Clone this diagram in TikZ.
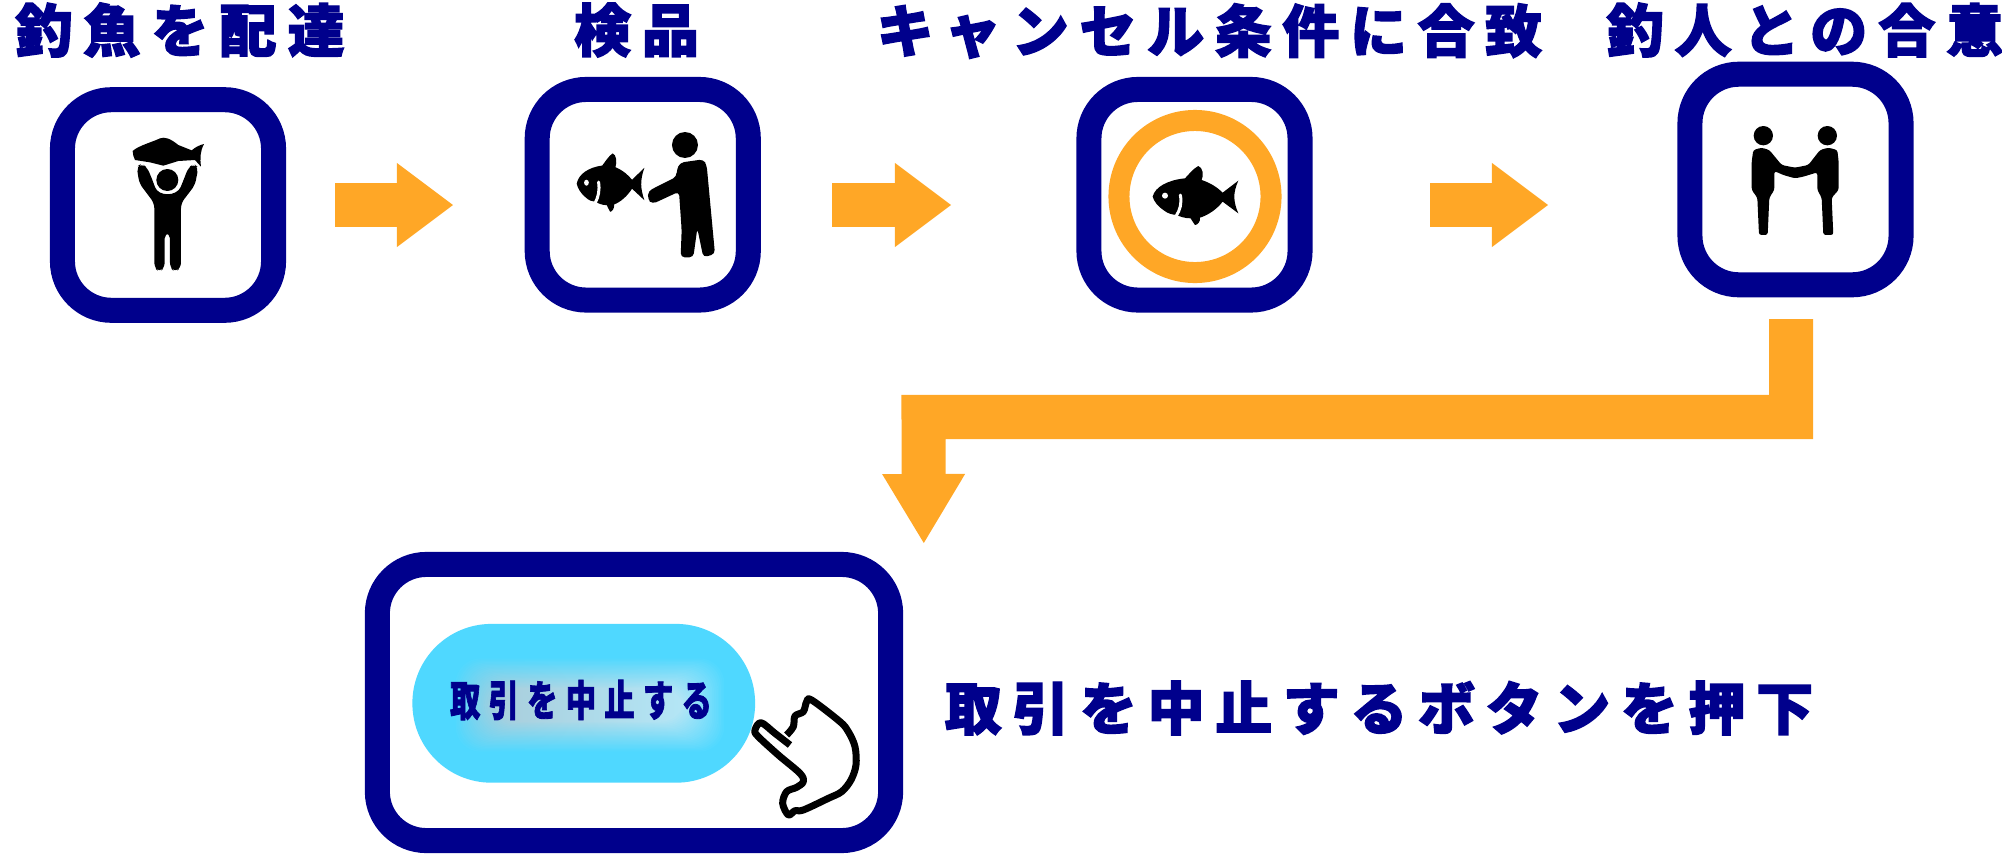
\documentclass[tikz,border=0pt]{standalone}
\usepackage{fontspec}
\usetikzlibrary{arrows.meta,calc}
\newfontfamily\jphead[LetterSpace=19.5,FakeBold=2.5]{Noto Sans CJK JP Black}
\newfontfamily\jplong[LetterSpace=18.7,FakeBold=2.5]{Noto Sans CJK JP Black}
\newfontfamily\jpbtn[LetterSpace=27,FakeBold=2]{Noto Sans CJK JP Black}
\definecolor{navy}{HTML}{00008C}
\definecolor{amber}{HTML}{FFA726}
\definecolor{sky}{HTML}{4FD8FF}
\definecolor{glowL}{HTML}{A8CEDC}
\definecolor{glowR}{HTML}{B4E6F6}
\tikzset{
  framebox/.style={draw=navy,line width=.25cm,fill=white,rounded corners=.49cm,outer sep=0pt,inner sep=0pt},
  stepframe/.style={framebox,minimum width=2.11cm,minimum height=2.105cm},
  flow/.style={draw=amber,line width=.44cm,-{Triangle[length=.56cm,width=.84cm,line width=0pt,fill=amber]}},
  longflow/.style={draw=amber,line width=.44cm,-{Triangle[length=.69cm,width=.83cm,line width=0pt,fill=amber]}},
  head/.style={text=navy,inner sep=0pt,font=\jphead\fontsize{16.2pt}{18pt}\selectfont},
  headlong/.style={text=navy,inner sep=0pt,font=\jplong\fontsize{16.2pt}{18pt}\selectfont},
  btntext/.style={text=navy,inner sep=0pt,xscale=.72,transform shape,font=\jpbtn\fontsize{12pt}{14pt}\selectfont},
}
\newcommand{\fishshape}{%
  \fill[black] (38,140) .. controls (45,110) and (85,90) .. (135,85)
    .. controls (145,75) and (160,55) .. (175,48)
    .. controls (188,52) and (192,75) .. (185,90)
    .. controls (215,100) and (235,115) .. (248,128) -- (295,92)
    .. controls (278,130) and (280,155) .. (295,190) -- (248,155)
    .. controls (230,178) and (205,195) .. (180,203)
    .. controls (182,215) and (172,225) .. (165,225)
    .. controls (158,220) and (158,210) .. (152,205)
    .. controls (135,205) and (120,200) .. (110,195)
    .. controls (95,193) and (85,192) .. (70,180)
    .. controls (55,170) and (42,155) .. (38,140) -- cycle;
  \fill[white] (75,137) circle (9);
  \draw[white,line width=.03cm,line cap=round] (121,135) .. controls (126,160) and (120,180) .. (109,197);
}
\begin{document}
\begin{tikzpicture}[x=.01cm,y=-.01cm]
\useasboundingbox (0,0) rectangle (2002,854);
% frames
\node[stepframe] (b1) at (168,205) {};
\node[stepframe] (b2) at (642.75,194.75) {};
\node[stepframe] (b3) at (1194.5,194.75) {};
\node[stepframe] (b4) at (1795.5,179.5) {};
\node[framebox,minimum width=5.13cm,minimum height=2.76cm] (b5) at (634,702.5) {};
% headings
\node[head] (h1) at (180,30) {釣魚を配達};
\node[head] (h2) at (636.5,30) {検品};
\node[headlong] (h3) at (1209.5,31) {キャンセル条件に合致};
\node[head] (h4) at (1805,30) {釣人との合意};
\node[headlong] (h5) at (1379,708) {取引を中止するボタンを押下};
% arrows
\coordinate (a1s) at (335,205); \coordinate (a1e) at (453,205);
\coordinate (a2s) at (832,205); \coordinate (a2e) at (951,205);
\coordinate (a3s) at (1430,205); \coordinate (a3e) at (1548,205);
\coordinate (a4s) at (1791,319); \coordinate (a4a) at (1791,417);
\coordinate (a4b) at (923.5,417); \coordinate (a4e) at (923.8,543);
\draw[flow] (a1s) -- (a1e);
\draw[flow] (a2s) -- (a2e);
\draw[flow] (a3s) -- (a3e);
\draw[longflow] (a4s) -- (a4a) -- (a4b) -- (a4e);
% icon 1
\begin{scope}[shift={(120,125)},scale=.3333]
  \fill[black] (38,78) .. controls (55,62) and (100,50) .. (120,40) .. controls (135,35) and (150,40) .. (175,60) -- (215,76) .. controls (228,65) and (240,60) .. (252,57) .. controls (240,80) and (240,100) .. (243,125) -- (225,105) -- (175,108) -- (130,122) -- (90,112) -- (45,105) -- (40,92) -- cycle;
  \fill[black,rounded corners=.05cm] (50,125) -- (65,116) -- (82,128) -- (100,172) .. controls (115,215) and (170,215) .. (188,172) -- (205,128) -- (222,116) -- (235,128) -- (225,180) -- (183,235) -- (183,428) -- (165,441) -- (150,428) -- (150,325) -- (134,325) -- (134,428) -- (118,441) -- (103,428) -- (103,235) -- (58,175) -- cycle;
  \fill[white] (142,165) circle (39);
  \fill[black] (142,165) circle (33);
\end{scope}
% icon 2
\begin{scope}[shift={(565,120)},scale=.3333]
  \fill[black] (360,75) circle (39);
  \fill[black,rounded corners=.04cm] (335,150) -- (345,128) -- (415,118) -- (425,135) -- (450,402) -- (415,412) -- (397,325) -- (385,412) -- (347,412) -- (350,330) -- (342,215) -- (262,252) -- (248,238) -- (250,213) -- (335,170) -- cycle;
\end{scope}
\begin{scope}[shift={(566.7,137.5)},xscale=.2633,yscale=.33]
  \fishshape
\end{scope}
% icon 3
\node[draw=amber,line width=.21cm,circle,minimum size=1.52cm,inner sep=0pt,outer sep=0pt] (ring) at (1195,196.5) {};
\begin{scope}[shift={(1140,150)},scale=.3333]
  \fishshape
\end{scope}
% icon 4
\begin{scope}[shift={(1740,115)},scale=.3333]
  \fill[black] (70,62) circle (29);
  \fill[black] (262,62) circle (29);
  \fill[black,rounded corners=.025cm] (35,140) -- (40,105) -- (65,98) -- (88,105) -- (125,150) -- (165,158) -- (205,150) -- (240,105) -- (265,98) -- (292,105) -- (296,140) -- (296,225) -- (275,248) -- (280,360) -- (250,360) -- (245,248) -- (232,225) -- (232,172) -- (190,185) -- (165,190) -- (130,180) -- (103,168) -- (103,225) -- (88,248) -- (83,360) -- (57,360) -- (52,248) -- (35,225) -- cycle;
\end{scope}
% button
\node[fill=sky,rounded corners=.79cm,minimum width=3.425cm,minimum height=1.587cm,inner sep=0pt] (btn) at (583.75,703.3) {};
\foreach \i in {0,...,24}{
  \pgfmathsetmacro{\t}{\i/24*100}
  \pgfmathsetmacro{\hw}{136-\i*1.7}
  \pgfmathsetmacro{\hh}{48-\i*1.3}
  \shade[left color=glowL!\t!sky,right color=glowR!\t!sky,rounded corners=.25cm] (590-\hw,705-\hh) rectangle (590+\hw,705+\hh);
}
\node[btntext] (bt) at (581,700) {取引を中止する};
% hand
\begin{scope}[shift={(745,690)},scale=.3333]
  \draw[black,line width=.07cm,line join=round] plot[smooth,tension=.55] coordinates {(135,165)(90,130)(48,98)(30,120)(38,138)(100,195)(165,250)(175,275)(155,292)(125,305)(113,340)(130,375)(150,362)(175,360)(250,325)(290,305)(318,270)(333,225)(330,170)(310,125)(285,95)(200,30)(185,35)(175,65)(150,78)(145,110)(125,135)};
\end{scope}
\end{tikzpicture}
\end{document}
